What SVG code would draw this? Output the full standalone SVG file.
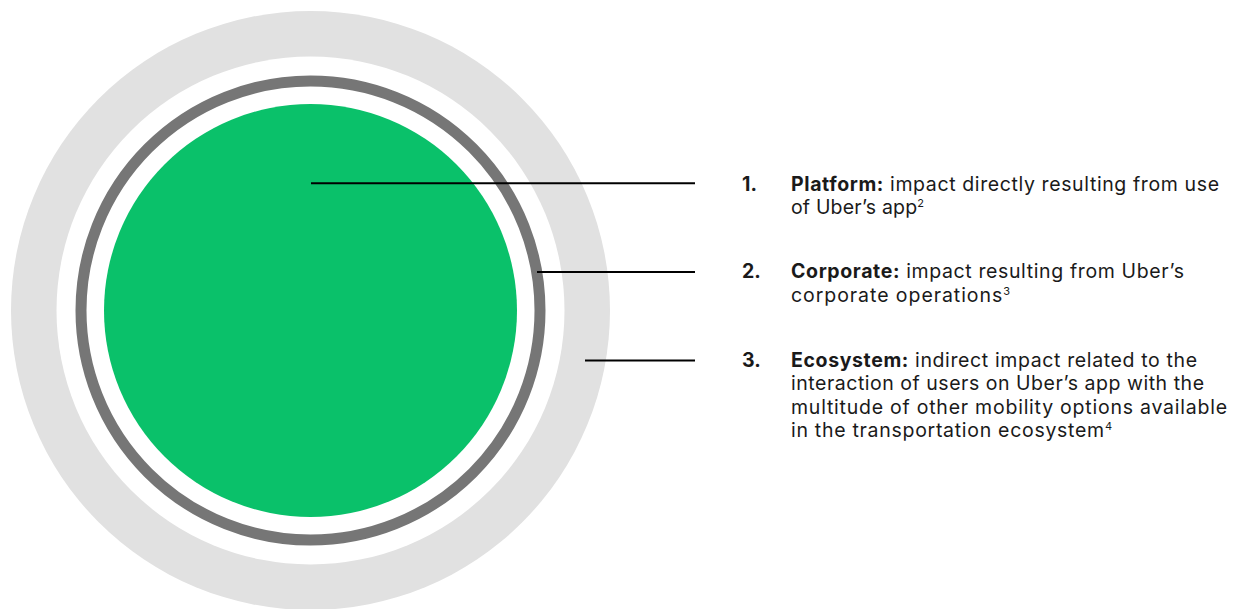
<svg xmlns="http://www.w3.org/2000/svg" width="1234" height="609" viewBox="0 0 1234 609">
<style>
text{font-family:Inter,"Liberation Sans",sans-serif;font-size:19.5px;fill:#1a1a1a}
.b{font-weight:700}
.sup{font-size:11px}
.conn line{stroke:#000;stroke-width:2}
</style>
<rect width="1234" height="609" fill="#fff"/>
<g id="ecosystem-ring">
<circle cx="310.5" cy="310.5" r="299.5" fill="#e1e1e1"/>
<circle cx="310.5" cy="310.5" r="254" fill="#fff"/>
</g>
<g id="corporate-ring">
<circle cx="310.5" cy="310.5" r="229.5" fill="none" stroke="#767676" stroke-width="11"/>
</g>
<g id="platform-circle">
<circle cx="310.5" cy="310.5" r="206.5" fill="#0ac16a"/>
</g>
<g class="conn" id="connectors">
<line x1="311" y1="183.3" x2="695" y2="183.3"/>
<line x1="537" y1="272" x2="695" y2="272"/>
<line x1="585" y1="360.5" x2="695" y2="360.5"/>
</g>
<g id="label-platform">
<text class="b" x="742" y="190.7">1.</text>
<text x="791" y="190.7" textLength="428" lengthAdjust="spacing"><tspan class="b">Platform:</tspan> impact directly resulting from use</text>
<text x="791" y="214" textLength="133" lengthAdjust="spacing">of Uber’s app<tspan class="sup" dy="-7">2</tspan></text>
</g>
<g id="label-corporate">
<text class="b" x="742" y="278.3">2.</text>
<text x="791" y="278.3" textLength="393" lengthAdjust="spacing"><tspan class="b">Corporate:</tspan> impact resulting from Uber’s</text>
<text x="791" y="301.6" textLength="219" lengthAdjust="spacing">corporate operations<tspan class="sup" dy="-7">3</tspan></text>
</g>
<g id="label-ecosystem">
<text class="b" x="742" y="367">3.</text>
<text x="791" y="367" textLength="406" lengthAdjust="spacing"><tspan class="b">Ecosystem:</tspan> indirect impact related to the</text>
<text x="791" y="390.3" textLength="413" lengthAdjust="spacing">interaction of users on Uber’s app with the</text>
<text x="791" y="413.6" textLength="436" lengthAdjust="spacing">multitude of other mobility options available</text>
<text x="791" y="436.9" textLength="321" lengthAdjust="spacing">in the transportation ecosystem<tspan class="sup" dy="-7">4</tspan></text>
</g>
</svg>
